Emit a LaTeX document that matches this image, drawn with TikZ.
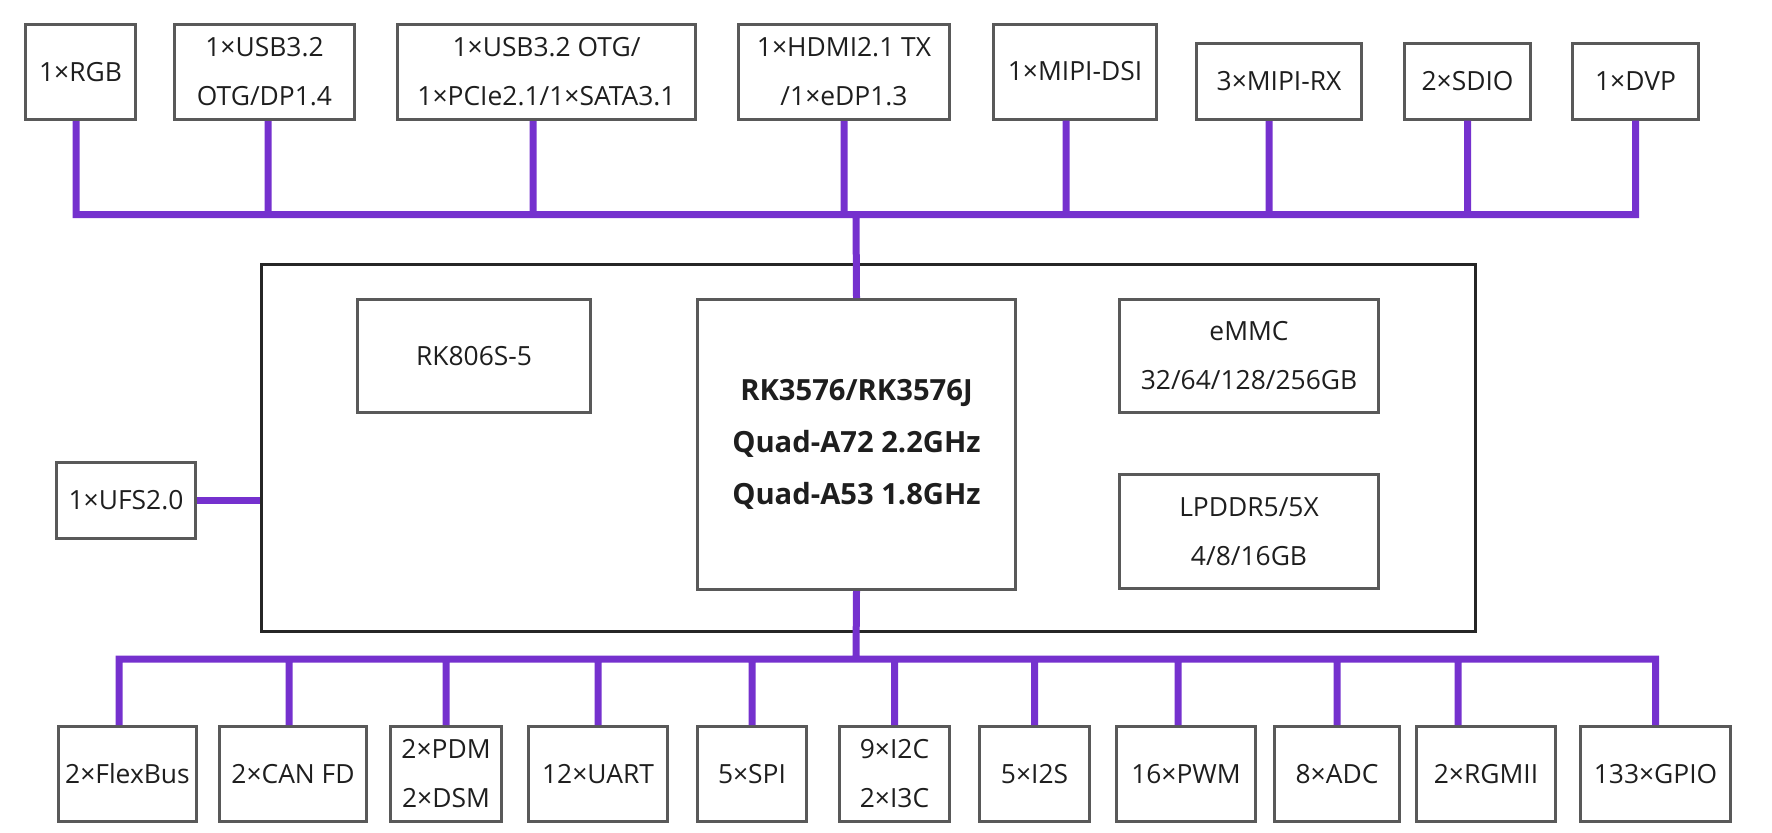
\documentclass[tikz,border=0pt]{standalone}
\usepackage{fontspec}
\setmainfont{Open Sans}
\usepackage{xcolor}
\usetikzlibrary{positioning}

\definecolor{busviolet}{RGB}{117,49,206}
\definecolor{boxgray}{RGB}{89,89,89}
\definecolor{boardblack}{RGB}{38,38,38}
\definecolor{textdark}{RGB}{30,30,30}

\begin{document}
\begin{tikzpicture} [
	x=0.5pt, y=-0.5pt, % one unit is one pixel of the original picture
	port/.style={draw=boxgray, line width=1.5pt, text=textdark, inner sep=0pt, align=center,
		minimum height=47.5pt, font=\fontsize{13.2pt}{24.5pt}\selectfont}, % the interface boxes
	bus/.style={draw=busviolet, line width=3.5pt}, % the violet lines
	]
	\useasboundingbox (0,0) rectangle (1772,832);

	% the core board
	\node[draw=boardblack, line width=1.5pt, inner sep=0pt, minimum width=607pt, minimum height=183.5pt] (board) at (868.5,448) {};
	\node[port, minimum width=116.5pt, minimum height=56.5pt] (pmic) at (474,356) {RK806S-5};
	\node[port, minimum width=159pt, minimum height=145pt, font=\bfseries\fontsize{14.6pt}{26pt}\selectfont] (soc) at (856.5,444.5) {RK3576/RK3576J\\Quad-A72 2.2GHz\\Quad-A53 1.8GHz};
	\node[port, minimum width=129.5pt, minimum height=56.5pt] (emmc) at (1249,356) {eMMC\\32/64/128/256GB};
	\node[port, minimum width=129.5pt, minimum height=57pt] (lpddr) at (1249,531.5) {LPDDR5/5X\\4/8/16GB};
	\node[port, minimum width=69.5pt, minimum height=38pt] (ufs) at (126,500.5) {1×UFS2.0};

	% top row
	\node[port, minimum width=55pt] (rgb) at (80.5,72) {1×RGB};
	\node[port, minimum width=90pt] (usbdp) at (264.5,72) {1×USB3.2\\OTG/DP1.4};
	\node[port, minimum width=149pt] (pcie) at (546.5,72) {1×USB3.2 OTG/\\1×PCIe2.1/1×SATA3.1};
	\node[port, minimum width=105.5pt] (hdmi) at (844,72) {1×HDMI2.1 TX\\/1×eDP1.3};
	\node[port, minimum width=81.5pt] (dsi) at (1075,71.5) {1×MIPI-DSI};
	\node[port, minimum width=82.5pt, minimum height=38pt] (mipirx) at (1279,81.5) {3×MIPI-RX};
	\node[port, minimum width=63pt, minimum height=38pt] (sdio) at (1467.5,81) {2×SDIO};
	\node[port, minimum width=63pt, minimum height=38pt] (dvp) at (1635.5,81) {1×DVP};

	% bottom row
	\node[port, minimum width=69pt] (flexbus) at (127.5,774) {2×FlexBus};
	\node[port, minimum width=73.5pt] (can) at (293,774) {2×CAN FD};
	\node[port, minimum width=55.5pt] (pdm) at (446,774) {2×PDM\\2×DSM};
	\node[port, minimum width=69.5pt] (uart) at (598,774) {12×UART};
	\node[port, minimum width=54.5pt] (spi) at (752,774) {5×SPI};
	\node[port, minimum width=55pt] (i2c) at (894.5,774) {9×I2C\\2×I3C};
	\node[port, minimum width=55pt] (i2s) at (1034.5,774) {5×I2S};
	\node[port, minimum width=69.5pt] (pwm) at (1186,774) {16×PWM};
	\node[port, minimum width=62.5pt] (adc) at (1337,774) {8×ADC};
	\node[port, minimum width=69.5pt] (rgmii) at (1486,774) {2×RGMII};
	\node[port, minimum width=75pt] (gpio) at (1655.5,774) {133×GPIO};

	\coordinate (topbus) at (856,214.5);
	\coordinate (botbus) at (856,659);

	\draw[bus]
		([xshift=-2.25pt]rgb.south) |- (topbus)
		([xshift=1.75pt]usbdp.south) |- (topbus)
		([xshift=-6.75pt]pcie.south) |- (topbus)
		(hdmi.south) |- (topbus)
		([xshift=-4.5pt]dsi.south) |- (topbus)
		([xshift=-5pt]mipirx.south) |- (topbus)
		(sdio.south) |- (topbus)
		(dvp.south) |- (topbus)
		(soc.north) -- (topbus)
	;
	\draw[bus]
		([xshift=-4.25pt]flexbus.north) |- (botbus)
		([xshift=-2pt]can.north) |- (botbus)
		(pdm.north) |- (botbus)
		(uart.north) |- (botbus)
		(spi.north) |- (botbus)
		(i2c.north) |- (botbus)
		(i2s.north) |- (botbus)
		([xshift=-4pt]pwm.north) |- (botbus)
		(adc.north) |- (botbus)
		([xshift=-14pt]rgmii.north) |- (botbus)
		(gpio.north) |- (botbus)
		(soc.south) -- (botbus)
	;
	\draw[bus] (ufs.east) -- (ufs.east -| board.west);
\end{tikzpicture}
\end{document}
